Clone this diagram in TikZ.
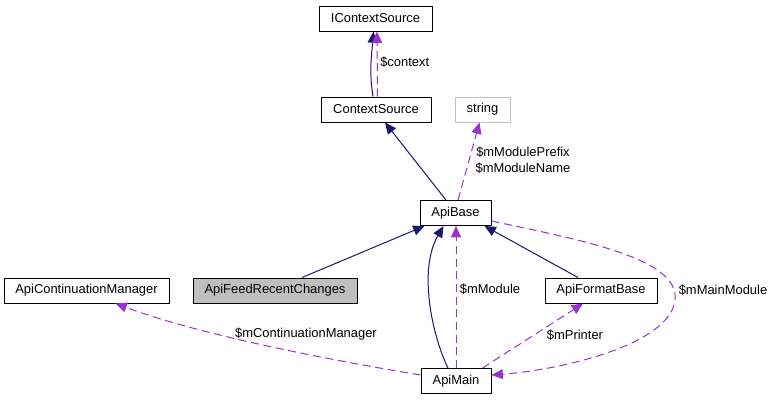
\documentclass[tikz,border=0pt]{standalone}
\usepackage{fontspec}
\setmainfont{Liberation Sans}
\usetikzlibrary{arrows.meta,calc}
\definecolor{navy}{HTML}{191970}
\definecolor{orchid}{HTML}{9A32CD}
\definecolor{lgray}{HTML}{BFBFBF}
\tikzset{
  box/.style={draw=black, line width=0.75pt, rectangle, inner sep=0pt, minimum height=18.75pt, font=\fontsize{9.7}{11.5}\selectfont, fill=white},
  lbl/.style={inner sep=0pt, font=\fontsize{9.7}{11.5}\selectfont},
  inh/.style={draw=navy, line width=0.75pt, -{Triangle[length=8.5pt,width=7.5pt]}},
  use/.style={draw=orchid, line width=0.75pt, dash pattern=on 6pt off 3.5pt, -{Triangle[length=8.5pt,width=7.5pt]}},
}
\begin{document}
\begin{tikzpicture}[x=0.75pt,y=-0.75pt]
\useasboundingbox[fill=white] (0,0) rectangle (775,400);
% nodes
\node[box, minimum width=84.75pt] (IContextSource) at (375.5,18.5) {IContextSource};
\node[box, minimum width=82.5pt] (ContextSource) at (376,109.5) {ContextSource};
\node[box, draw=lgray, minimum width=41.25pt] (string) at (482.5,109.5) {string};
\node[box, minimum width=53.25pt] (ApiBase) at (455.5,213) {ApiBase};
\node[box, minimum width=123.75pt] (ApiContinuationManager) at (86.5,290.5) {ApiContinuationManager};
\node[box, fill=lgray, minimum width=123pt] (ApiFeedRecentChanges) at (275,290.5) {ApiFeedRecentChanges};
\node[box, minimum width=84pt] (ApiFormatBase) at (601,290.5) {ApiFormatBase};
\node[box, minimum width=52.5pt] (ApiMain) at (456,381) {ApiMain};
% edges
\draw[inh] ($(ContextSource.north)+(-3,0)$) .. controls +(-4,-25) and +(-2,25) .. ($(IContextSource.south)+(-2,0)$);
\draw[use] ($(ContextSource.north)+(1.5,0)$) -- ($(IContextSource.south)+(1.5,0)$);
\node[lbl, anchor=west] (lcontext) at (380,62) {\$context};

\draw[inh] ($(ApiBase.north)+(-9.5,0)$) -- ($(ContextSource.south)+(9,0)$);
\draw[use] ($(ApiBase.north)+(2.5,0)$) -- ($(string.south)+(-3,0)$);
\node[lbl, align=center] (lstring) at (523,160) {\$mModulePrefix\\\$mModuleName};

\draw[inh] ($(ApiFeedRecentChanges.north)+(27,0)$) -- ($(ApiBase.south west)+(5,0)$);
\draw[inh] ($(ApiMain.north)+(-8,0)$) .. controls (432,335) and (418,270) .. ($(ApiBase.south)+(-12,0)$);
\draw[use] (ApiMain.north) -- (ApiMain.north |- ApiBase.south);
\node[lbl] (lmodule) at (490,289) {\$mModule};
\draw[inh] ($(ApiFormatBase.north)+(-23,0)$) -- ($(ApiBase.south east)+(-7,0)$);
\draw[use] ($(ApiMain.north east)+(-9,0)$) -- ($(ApiFormatBase.south)+(-18,0)$);
\node[lbl] (lprinter) at (575,335) {\$mPrinter};
\coordinate (mm) at (675,300);
\draw[use] ($(ApiBase.east)+(0,8)$) .. controls (580,240) and (680,258) .. (mm) .. controls (670,345) and (560,370) .. ($(ApiMain.east)+(0,-6)$);
\node[lbl] (lmain) at (723,290) {\$mMainModule};
\draw[use] ($(ApiMain.west)+(0,-6)$) .. controls (330,360) and (200,335) .. ($(ApiContinuationManager.south)+(29,0)$);
\node[lbl] (lcont) at (306,334) {\$mContinuationManager};
\end{tikzpicture}
\end{document}
